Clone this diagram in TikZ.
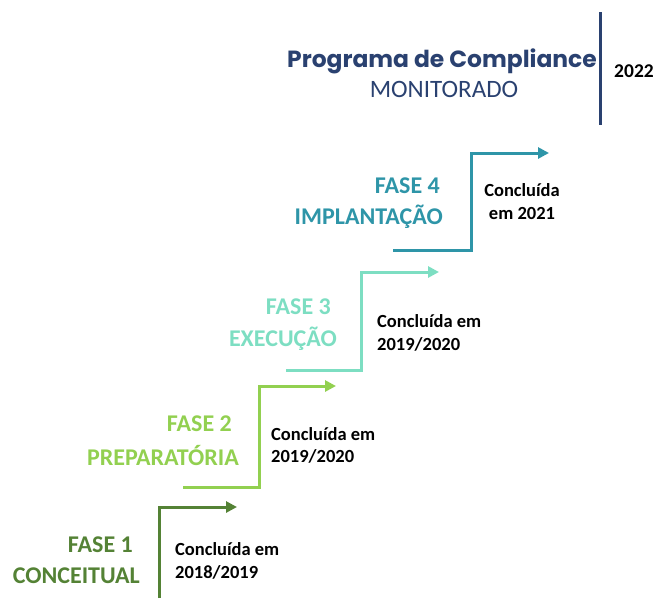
\documentclass[tikz,border=0pt]{standalone}
\usepackage{fontspec}
\setmainfont{Carlito}
\newfontfamily\titlefont{Poppins}
\usetikzlibrary{arrows.meta}
\definecolor{gone}{HTML}{548235}
\definecolor{gtwo}{HTML}{92D050}
\definecolor{tthree}{HTML}{7DDEC2}
\definecolor{tfour}{HTML}{2E95A8}
\definecolor{navy}{HTML}{2A4170}
\tikzset{
  stair/.style={line width=3pt, -{Triangle[length=11pt,width=11pt]}},
  phase/.style={font=\fontsize{24}{26}\selectfont\bfseries, align=right, inner sep=0pt},
  done/.style={font=\fontsize{18.5}{22}\selectfont\bfseries, inner sep=0pt, anchor=west},
}
\begin{document}
\begin{tikzpicture}[x=1pt,y=-1pt]
\useasboundingbox (0,0) rectangle (654,598);
% step 1
\coordinate (s1a) at (159,598);
\coordinate (s1b) at (159,507);
\coordinate (s1c) at (237,507);
\draw[stair,gone] (s1a) -- (s1b) -- (s1c);
% step 2
\coordinate (s2a) at (183,487);
\coordinate (s2b) at (259,487);
\coordinate (s2c) at (259,386);
\coordinate (s2d) at (336,386);
\draw[stair,gtwo] (s2a) -- (s2b) -- (s2c) -- (s2d);
% step 3
\coordinate (s3a) at (286,370);
\coordinate (s3b) at (361,370);
\coordinate (s3c) at (361,272);
\coordinate (s3d) at (439,272);
\draw[stair,tthree] (s3a) -- (s3b) -- (s3c) -- (s3d);
% step 4
\coordinate (s4a) at (393,250);
\coordinate (s4b) at (471,250);
\coordinate (s4c) at (471,153);
\coordinate (s4d) at (549,153);
\draw[stair,tfour] (s4a) -- (s4b) -- (s4c) -- (s4d);
% navy bar
\coordinate (n1) at (600,12);
\coordinate (n2) at (600,125);
\draw[navy,line width=3pt] (n1) -- (n2);
% title
\node[anchor=east,inner sep=0pt,text=navy,font=\titlefont\fontsize{23.4}{26}\selectfont\bfseries] (title) at (597,61) {Programa de Compliance};
\node[inner sep=0pt,text=navy,font=\fontsize{25}{28}\selectfont] (mon) at (444,89) {MONITORADO};
\node[inner sep=0pt,font=\fontsize{19.5}{22}\selectfont\bfseries] (yr) at (634,71) {2022};
% phase labels
\node[phase,text=tfour,anchor=east] (f4a) at (440,186) {FASE 4};
\node[phase,text=tfour,anchor=east] (f4b) at (443,217) {IMPLANTAÇÃO};
\node[phase,text=tthree,anchor=east] (f3a) at (331,307) {FASE 3};
\node[phase,text=tthree,anchor=east] (f3b) at (337,339) {EXECUÇÃO};
\node[phase,text=gtwo,anchor=east] (f2a) at (232,424) {FASE 2};
\node[phase,text=gtwo,anchor=east] (f2b) at (239,455) {PREPARATÓRIA};
\node[phase,text=gone,anchor=east] (f1a) at (133,545) {FASE 1};
\node[phase,text=gone,anchor=east] (f1b) at (140,576) {CONCEITUAL};
% completion
\node[done,anchor=center] (c4a) at (522,190) {Concluída};
\node[done,anchor=center] (c4b) at (522,213) {em 2021};
\node[done] (c3a) at (377,321) {Concluída em};
\node[done] (c3b) at (377,344) {2019/2020};
\node[done] (c2a) at (271,434) {Concluída em};
\node[done] (c2b) at (271,456) {2019/2020};
\node[done] (c1a) at (175,549) {Concluída em};
\node[done] (c1b) at (175,572) {2018/2019};
\end{tikzpicture}
\end{document}
